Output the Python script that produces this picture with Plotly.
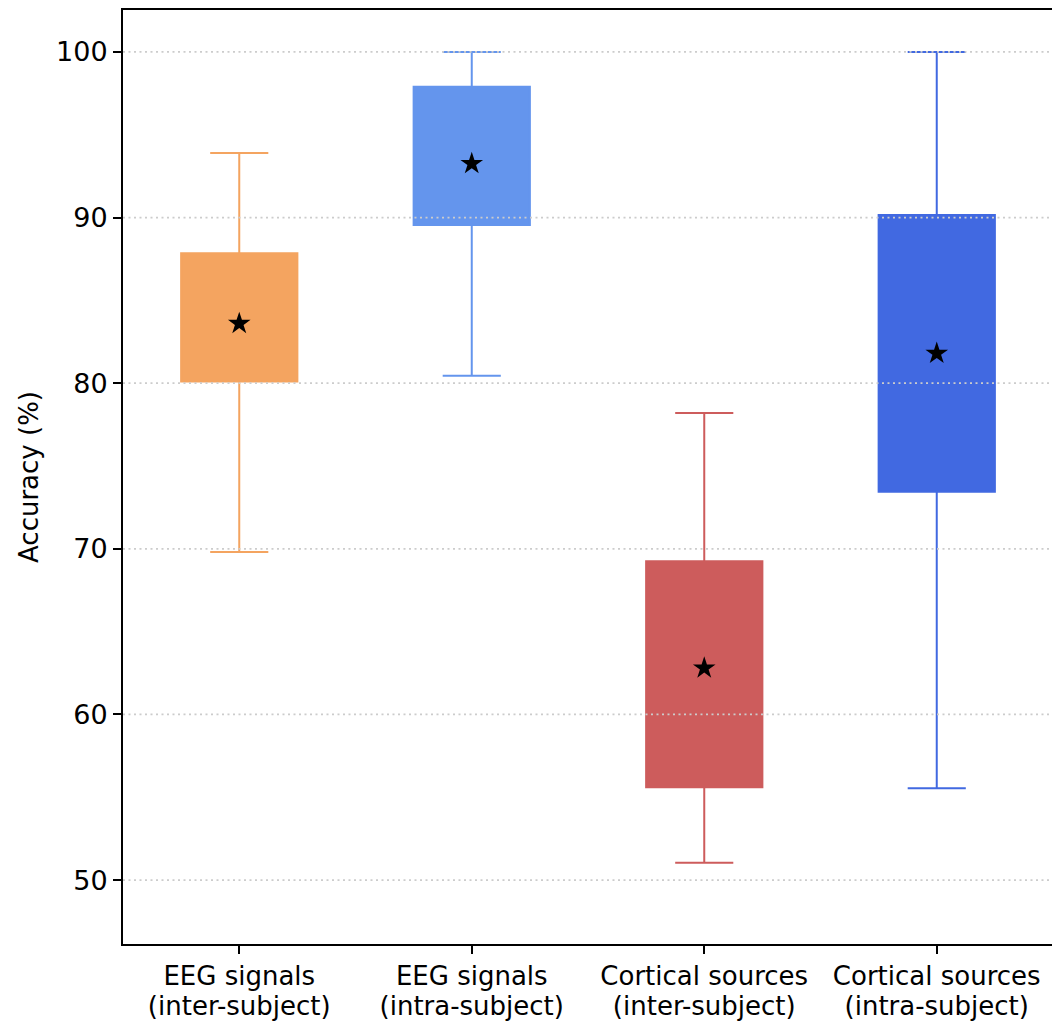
import plotly.graph_objects as go

cat_line1 = ["EEG signals", "EEG signals", "Cortical sources", "Cortical sources"]
cat_line2 = ["(inter-subject)", "(intra-subject)", "(inter-subject)", "(intra-subject)"]
positions = [1, 2, 3, 4]
lower_whisker = [69.8, 80.45, 51.05, 55.55]
q1 = [80.1, 89.55, 55.6, 73.45]
median = [83.5, 93.5, 62.5, 82.0]
q3 = [87.85, 97.9, 69.25, 90.15]
upper_whisker = [93.9, 100.0, 78.2, 100.0]
means = [83.6, 93.25, 62.8, 81.8]
colors = ["#F4A460", "#6495ED", "#CD5C5C", "#4169E1"]
yticks = [50, 60, 70, 80, 90, 100]

fig = go.Figure()
for i in range(4):
    fig.add_trace(go.Box(
        x=[positions[i]], q1=[q1[i]], median=[median[i]], q3=[q3[i]],
        lowerfence=[lower_whisker[i]], upperfence=[upper_whisker[i]],
        width=0.5, whiskerwidth=0.5, fillcolor=colors[i],
        line=dict(color=colors[i], width=2), boxpoints=False,
        showlegend=False, hoverinfo="skip"))

fig.add_trace(go.Scatter(
    x=positions, y=means, mode="markers",
    marker=dict(symbol="star", size=17, color="black", line=dict(width=0)),
    showlegend=False))

# invisible trace so the second (label) x axis is drawn
fig.add_trace(go.Scatter(x=positions, y=means, xaxis="x2", mode="markers",
                         marker=dict(opacity=0), showlegend=False, hoverinfo="skip"))

for v in yticks:
    fig.add_shape(type="line", xref="paper", x0=0, x1=1, yref="y", y0=v, y1=v,
                  layer="above", line=dict(color="#cccccc", width=1.8, dash="2px,3.5px"))

fig.update_layout(
    width=1052, height=1013,
    margin=dict(l=115, r=7, t=2, b=77),
    plot_bgcolor="white", paper_bgcolor="white",
    font=dict(family="DejaVu Sans", size=26, color="black"),
    xaxis=dict(range=[0.5, 4.5], tickvals=positions, ticktext=cat_line1,
               automargin=False,
               showgrid=False, zeroline=False, showline=True, linecolor="black",
               linewidth=2, mirror=True, ticks="outside", ticklen=8, tickwidth=1.5,
               tickcolor="black", tickfont=dict(size=26)),
    xaxis2=dict(range=[0.5, 4.5], tickvals=positions, ticktext=cat_line2,
                overlaying="x", side="bottom", anchor="y", automargin=False,
                showgrid=False, zeroline=False, showline=False,
                ticks="outside", ticklen=8, tickcolor="rgba(0,0,0,0)",
                ticklabelstandoff=31, tickfont=dict(size=26)),
    yaxis=dict(range=[46.14, 102.53], tickvals=yticks, showgrid=False, zeroline=False,
               automargin=False,
               showline=True, linecolor="black", linewidth=2, mirror=True,
               ticks="outside", ticklen=8, tickwidth=1.5, tickcolor="black",
               tickfont=dict(size=27),
               title=dict(text="Accuracy (%)", font=dict(size=26), standoff=10)),
)

fig.write_html("out.html")
